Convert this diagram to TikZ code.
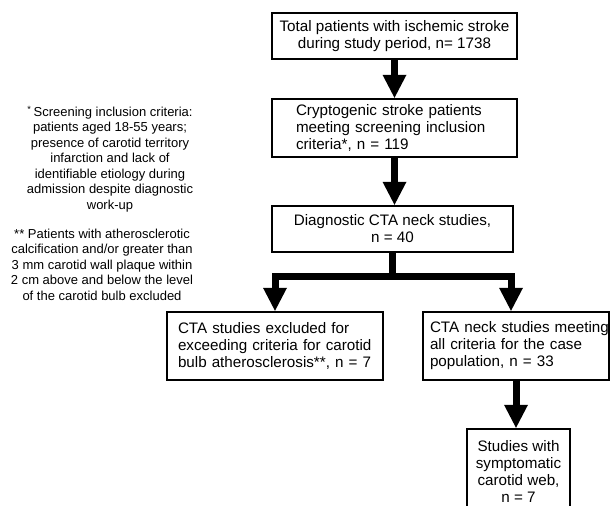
\documentclass[tikz,border=0pt]{standalone}
\usepackage{fontspec}
\setmainfont{Liberation Sans}
\usetikzlibrary{arrows.meta}
\hyphenpenalty=10000
\exhyphenpenalty=10000
\begin{document}
\begin{tikzpicture}[x=1bp,y=-1bp,
  box/.style={draw=black, line width=2.4bp, inner sep=0pt, fill=white,
              font=\fontsize{15.2bp}{17bp}\selectfont},
  note/.style={inner sep=0pt, align=center, font=\fontsize{13bp}{15.5bp}\selectfont},
  conn/.style={line width=7bp, -{Triangle[width=24bp,length=23bp,line width=0pt]}},
  thickline/.style={line width=7bp}]
\useasboundingbox (0,0) rectangle (610,506);
\clip (0,0) rectangle (610,506);
\fill[white] (0,0) rectangle (610,506);

% boxes
\node[box, minimum width=245bp, minimum height=46bp, align=center] (total) at (394.5,36)
  {Total patients with ischemic stroke\\during study period, n= 1738};
\node[box, minimum width=245bp, minimum height=58bp, align=left, text width=197bp] (crypto) at (394.5,128)
  {Cryptogenic stroke patients\\meeting screening inclusion\\criteria*, n = 119};
\node[box, minimum width=241bp, minimum height=46bp, align=center] (cta) at (392.5,229)
  {Diagnostic CTA neck studies,\\n = 40};
\node[box, minimum width=216bp, minimum height=68bp, align=left, text width=194bp] (excl) at (275,346)
  {CTA studies excluded for\\exceeding criteria for carotid\\bulb atherosclerosis**, n = 7};
\node[box, minimum width=186bp, minimum height=68bp, align=left, text width=172bp] (meet) at (516,346)
  {\mbox{CTA neck studies meeting}\\all criteria for the case\\population, n = 33};
\node[box, minimum width=103bp, minimum height=84bp, align=center] (web) at (518.5,471)
  {Studies with\\symptomatic\\carotid web,\\n = 7};

% notes
\node[note] (n1) at (110,159)
  {\textsuperscript{*}\,Screening inclusion criteria:\\patients aged 18-55 years;\\presence of carotid territory\\infarction and lack of\\identifiable etiology during\\admission despite diagnostic\\work-up};
\node[note] (n2) at (102,264.5)
  {** Patients with atherosclerotic\\calcification and/or greater than\\3 mm carotid wall plaque within\\2 cm above and below the level\\of the carotid bulb excluded};

% connectors
\draw[conn] (total.south) -- (crypto.north);
\draw[conn] (crypto.south) -- (crypto.south |- cta.north);
\coordinate (jn) at (cta.south |- 0,276);
\draw[thickline] (cta.south) -- (jn);
\draw[thickline, line join=miter, {Triangle[width=24bp,length=23bp,line width=0pt]}-{Triangle[width=24bp,length=23bp,line width=0pt]}]
  (excl.north) |- (jn) -| ([xshift=-5bp]meet.north);
\draw[conn] (meet.south) -- (meet.south |- web.north);
\end{tikzpicture}
\end{document}
